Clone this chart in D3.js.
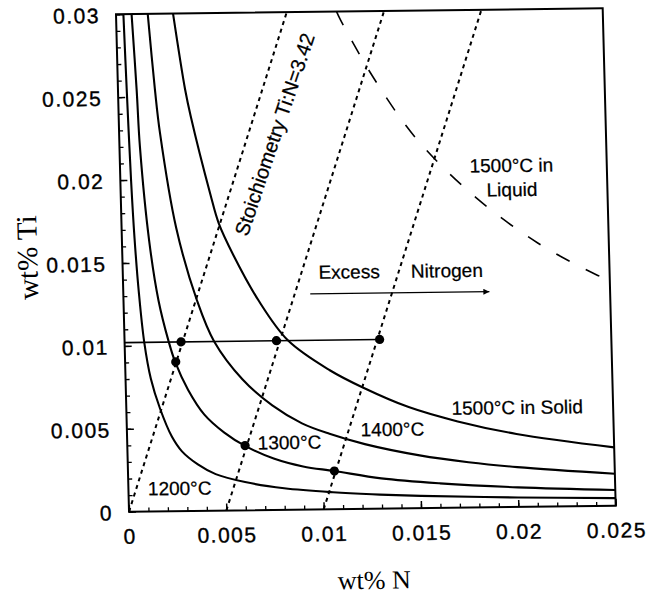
<!DOCTYPE html>
<html>
<head>
<meta charset="utf-8">
<script src="https://cdn.jsdelivr.net/npm/d3@7"></script>
<style>
  html, body { margin: 0; padding: 0; background: #fff; }
  svg { display: block; }
</style>
</head>
<body>
<svg id="chart" width="662" height="598"></svg>
<script>
// TiN solubility in steel: wt% Ti against wt% N

const xTicks = [0, 0.005, 0.01, 0.015, 0.02, 0.025];
const xTickLabels = ["0", "0.005", "0.01", "0.015", "0.02", "0.025"];
const yTicks = [0, 0.005, 0.01, 0.015, 0.02, 0.025, 0.03];
const yTickLabels = ["0", "0.005", "0.01", "0.015", "0.02", "0.025", "0.03"];

// solubility curves, [wt% N, wt% Ti]
const curve1200 = [
  [0.00038, 0.03], [0.00045, 0.0254], [0.00055, 0.02], [0.00065, 0.0165],
  [0.0008, 0.0132], [0.00101, 0.0102], [0.0013, 0.008], [0.00173, 0.0062],
  [0.0023, 0.0045], [0.0028, 0.0036], [0.0036, 0.0028], [0.0045, 0.0022],
  [0.006, 0.0017], [0.008, 0.0013], [0.0105, 0.00102], [0.0125, 0.00087],
  [0.015, 0.00074], [0.02, 0.00057], [0.025, 0.00046]
];
const curve1300 = [
  [0.0008, 0.03], [0.00096, 0.0254], [0.00105, 0.022], [0.0014, 0.0163],
  [0.0018, 0.0127], [0.00225, 0.0103], [0.00257, 0.009], [0.0032, 0.0073],
  [0.004, 0.0058], [0.005, 0.0047], [0.00605, 0.00388], [0.0075, 0.0031],
  [0.009, 0.0026], [0.0106, 0.0023], [0.013, 0.00182], [0.016, 0.00148],
  [0.02, 0.00118], [0.025, 0.00095]
];
const curve1400 = [
  [0.00163, 0.03], [0.0019, 0.0254], [0.0021, 0.0228], [0.0028, 0.0171],
  [0.00377, 0.0127], [0.0046, 0.0102], [0.006, 0.0079], [0.0075, 0.0063],
  [0.009, 0.0052], [0.0104, 0.00455], [0.0122, 0.0039], [0.015, 0.00318],
  [0.0175, 0.00273], [0.02, 0.0024], [0.025, 0.00193]
];
const curve1500Solid = [
  [0.00293, 0.03], [0.00345, 0.0254], [0.0037, 0.0238], [0.0046, 0.0191],
  [0.005, 0.0173], [0.0057, 0.0154], [0.00693, 0.01265], [0.0084, 0.0102],
  [0.0105, 0.00838], [0.0122, 0.0073], [0.0145, 0.0061], [0.017, 0.0052],
  [0.02, 0.0044], [0.025, 0.00352]
];
const curve1500Liquid = [
  [0.01133, 0.03], [0.01152, 0.0295], [0.01313, 0.026], [0.01531, 0.0222],
  [0.01827, 0.01865], [0.02135, 0.0159], [0.02439, 0.0139], [0.025, 0.0136]
];

// lines of constant Ti:N = 3.42, shifted in N
const stoichLines = [
  [[0, 0], [0.00877, 0.03]],
  [[0.005, 0], [0.01377, 0.03]],
  [[0.01, 0], [0.01877, 0.03]]
];
const tieLine = [[0, 0.0102], [0.0131, 0.0102]];
const markers = [
  [0.0029, 0.0102], [0.0078, 0.0102], [0.0131, 0.0102],
  [0.0026, 0.009], [0.00605, 0.0039], [0.0106, 0.0023]
];
const excessArrow = [[0.0096, 0.013], [0.0188, 0.013]];

const labels = [
  { text: "1200°C", n: 0.001, ti: 0.00097 },
  { text: "1300°C", n: 0.0067, ti: 0.00366 },
  { text: "1400°C", n: 0.012, ti: 0.00437 },
  { text: "1500°C in Solid", n: 0.0167, ti: 0.0056 },
  { text: "Excess", n: 0.01005, ti: 0.0139 },
  { text: "Nitrogen", n: 0.0148, ti: 0.0139 }
];
const liquidLabel = [
  { text: "1500°C in", n: 0.0201, ti: 0.0202 },
  { text: "Liquid", n: 0.0201, ti: 0.01874 }
];
const stoichLabel = { text: "Stoichiometry Ti:N=3.42", n: 0.00645, ti: 0.01646, angle: -70 };

// ---- layout ----
const W = 486, H = 497;
const sans = "'Liberation Sans', Arial, Helvetica, sans-serif";
const serif = "'Liberation Serif', 'Times New Roman', serif";

const svg = d3.select("#chart");
svg.append("rect").attr("width", 662).attr("height", 598).attr("fill", "#fff");

// the whole figure sits slightly tilted on the page
const g = svg.append("g")
  .attr("transform", "matrix(1.0014,-0.0123,0.0262,1.0008,116,14.3)");

const x = d3.scaleLinear().domain([0, 0.025]).range([0, W]);
const y = d3.scaleLinear().domain([0, 0.03]).range([H, 0]);

g.append("clipPath").attr("id", "plotClip")
  .append("rect").attr("x", 0).attr("y", 0).attr("width", W).attr("height", H);

// minor ticks
const xMinor = d3.ticks(0, 0.025, 25);
const yMinor = d3.ticks(0, 0.03, 30);

g.append("g").attr("transform", `translate(0,${H})`)
  .call(d3.axisBottom(x).tickValues(xMinor).tickSizeInner(-4).tickSizeOuter(0).tickFormat(""))
  .call(a => a.select(".domain").remove())
  .call(a => a.selectAll("line").attr("stroke-width", 1.3));
g.append("g")
  .call(d3.axisLeft(y).tickValues(yMinor).tickSizeInner(-4).tickSizeOuter(0).tickFormat(""))
  .call(a => a.select(".domain").remove())
  .call(a => a.selectAll("line").attr("stroke-width", 1.3));

// major ticks with labels
g.append("g").attr("transform", `translate(0,${H})`)
  .call(d3.axisBottom(x).tickValues(xTicks).tickSizeInner(-7).tickSizeOuter(0)
    .tickPadding(17).tickFormat((d, i) => xTickLabels[i]))
  .call(a => a.select(".domain").remove())
  .call(a => a.selectAll("line").attr("stroke-width", 1.5))
  .call(a => a.selectAll("text").attr("font-family", sans).attr("font-size", 21)
    .attr("letter-spacing", "1.5px").attr("fill", "#000")
    .attr("stroke", "#000").attr("stroke-width", 0.35));
g.append("g")
  .call(d3.axisLeft(y).tickValues(yTicks).tickSizeInner(-7).tickSizeOuter(0)
    .tickPadding(16).tickFormat((d, i) => yTickLabels[i]))
  .call(a => a.select(".domain").remove())
  .call(a => a.selectAll("line").attr("stroke-width", 1.5))
  .call(a => a.selectAll("text").attr("font-family", sans).attr("font-size", 21)
    .attr("letter-spacing", "1.5px").attr("fill", "#000").attr("dy", "0.38em")
    .attr("stroke", "#000").attr("stroke-width", 0.35));

// frame
g.append("rect").attr("x", 0).attr("y", 0).attr("width", W).attr("height", H)
  .attr("fill", "none").attr("stroke", "#000").attr("stroke-width", 2);

const plot = g.append("g").attr("clip-path", "url(#plotClip)");
const line = d3.line().x(d => x(d[0])).y(d => y(d[1]));
const smooth = d3.line().x(d => x(d[0])).y(d => y(d[1])).curve(d3.curveCatmullRom.alpha(0.5));

// stoichiometric lines
plot.selectAll(".stoich").data(stoichLines).join("path")
  .attr("class", "stoich").attr("d", line)
  .attr("fill", "none").attr("stroke", "#000").attr("stroke-width", 2)
  .attr("stroke-dasharray", "4,4");

// solid solubility curves
plot.selectAll(".solid").data([curve1200, curve1300, curve1400, curve1500Solid]).join("path")
  .attr("class", "solid").attr("d", smooth)
  .attr("fill", "none").attr("stroke", "#000").attr("stroke-width", 2.1);

// liquid solubility curve
plot.append("path").datum(curve1500Liquid).attr("d", smooth)
  .attr("fill", "none").attr("stroke", "#000").attr("stroke-width", 1.6)
  .attr("stroke-dasharray", "15,18");

// constant-Ti line and markers
plot.append("path").datum(tieLine).attr("d", line)
  .attr("fill", "none").attr("stroke", "#000").attr("stroke-width", 1.6);
plot.selectAll(".mk").data(markers).join("circle")
  .attr("class", "mk").attr("cx", d => x(d[0])).attr("cy", d => y(d[1]))
  .attr("r", 4.6).attr("fill", "#000");

// arrow
const defs = svg.append("defs");
defs.append("marker").attr("id", "arrowHead")
  .attr("viewBox", "0 0 10 10").attr("refX", 10).attr("refY", 5)
  .attr("markerWidth", 9).attr("markerHeight", 6).attr("markerUnits", "userSpaceOnUse")
  .attr("orient", "auto")
  .append("path").attr("d", "M0,0 L10,5 L0,10 Z").attr("fill", "#000");
plot.append("path").datum(excessArrow).attr("d", line)
  .attr("fill", "none").attr("stroke", "#000").attr("stroke-width", 1.4)
  .attr("marker-end", "url(#arrowHead)");

// text annotations
g.selectAll(".lbl").data(labels).join("text")
  .attr("class", "lbl").attr("x", d => x(d.n)).attr("y", d => y(d.ti))
  .attr("font-family", sans).attr("font-size", 19).attr("fill", "#000")
  .attr("stroke", "#000").attr("stroke-width", 0.25)
  .text(d => d.text);
g.selectAll(".liq").data(liquidLabel).join("text")
  .attr("class", "liq").attr("x", d => x(d.n)).attr("y", d => y(d.ti))
  .attr("text-anchor", "middle")
  .attr("font-family", sans).attr("font-size", 19).attr("fill", "#000")
  .attr("stroke", "#000").attr("stroke-width", 0.25)
  .text(d => d.text);
g.append("text")
  .attr("transform", `translate(${x(stoichLabel.n)},${y(stoichLabel.ti)}) rotate(${stoichLabel.angle})`)
  .attr("font-family", sans).attr("font-size", 20).attr("fill", "#000")
  .attr("stroke", "#000").attr("stroke-width", 0.25)
  .text(stoichLabel.text);

// axis titles
g.append("text").attr("x", W / 2).attr("y", H + 80)
  .attr("text-anchor", "middle").attr("font-family", serif).attr("font-size", 26)
  .attr("fill", "#000").text("wt% N");
g.append("text")
  .attr("transform", `translate(-85,${242}) rotate(-90)`)
  .attr("text-anchor", "middle").attr("font-family", serif).attr("font-size", 29)
  .attr("fill", "#000").text("wt% Ti");
</script>
</body>
</html>
